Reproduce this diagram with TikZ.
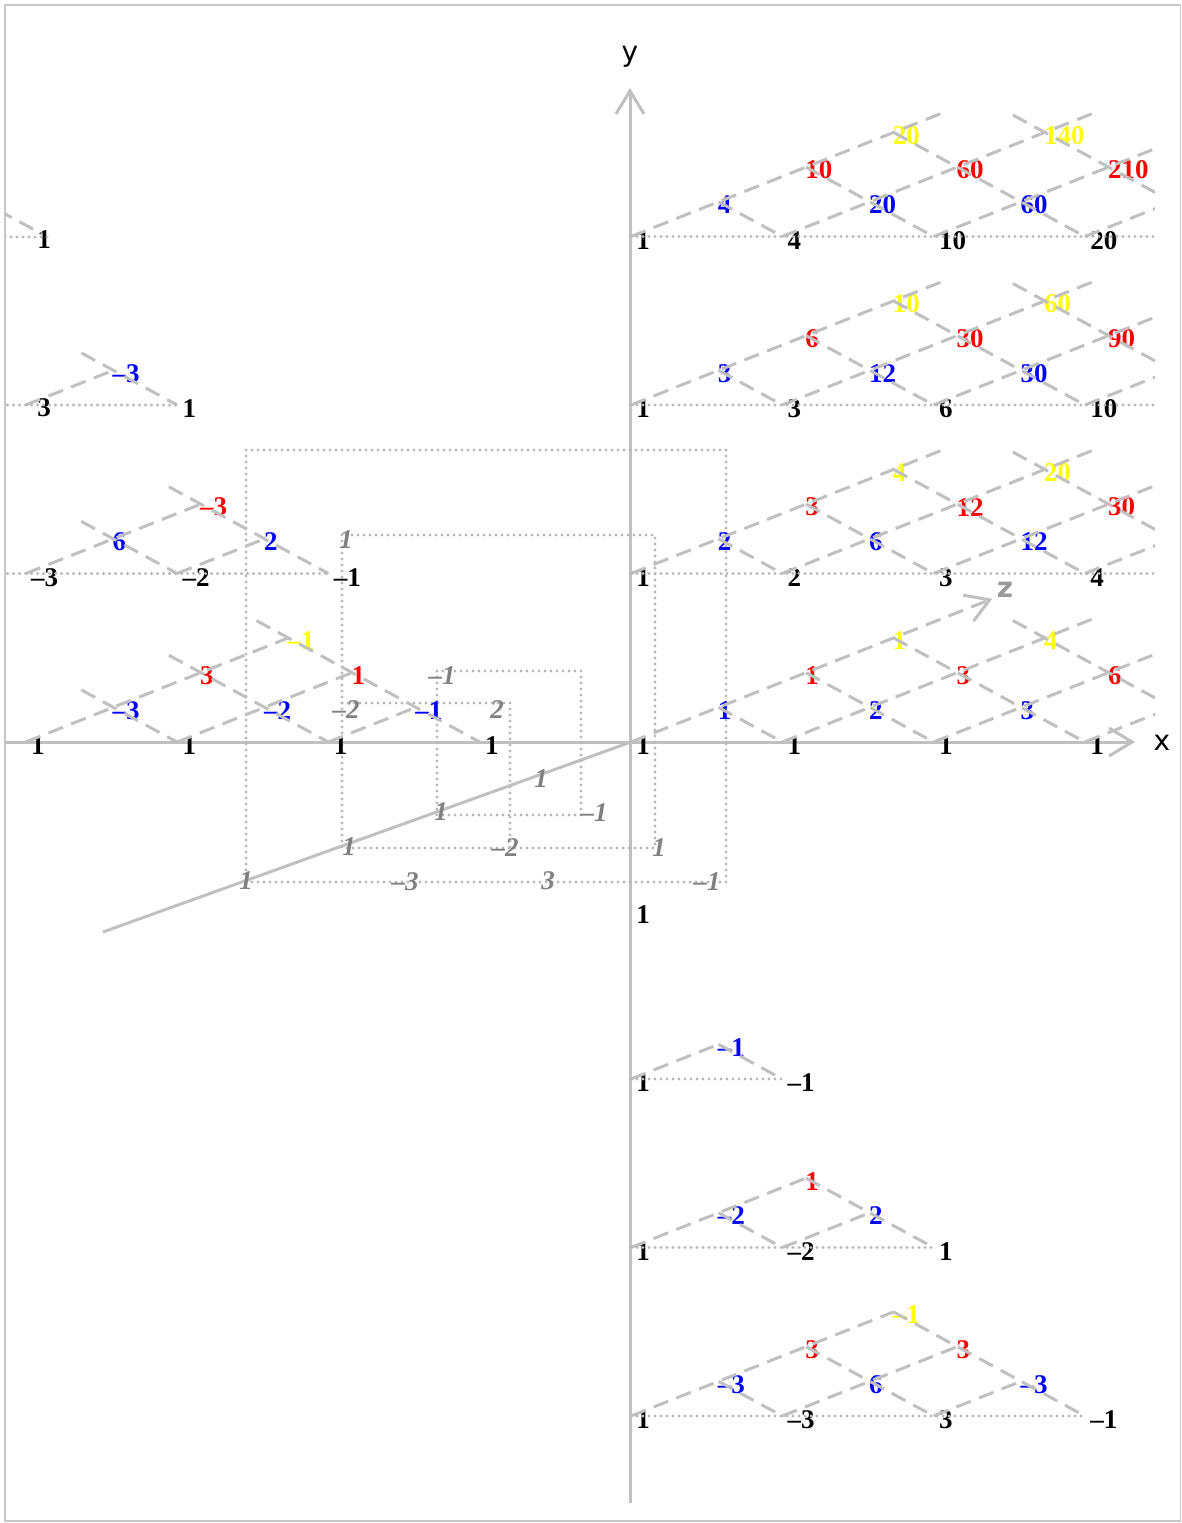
\documentclass[tikz,border=0pt]{standalone}
\usepackage{fontspec}
\setmainfont{Liberation Serif}
\newfontfamily\axfont{DejaVu Sans}
\usetikzlibrary{arrows.meta}
\definecolor{lg}{HTML}{C0C0C0}
\definecolor{dl}{HTML}{B8B8B8}
\definecolor{dg}{HTML}{808080}
\definecolor{zg}{HTML}{9A9A9A}
\definecolor{yel}{HTML}{FFFF00}
\definecolor{fr}{HTML}{C8C8C8}
\newcommand\lrow[4]{%
  \foreach \xx/\v in {#4} \node[#1] (#1y#2z#3x\xx) at (\xx,#2,#3) {\v};}
\begin{document}
\begin{tikzpicture}[x=0.5pt,y=-0.5pt,
  axis/.style={draw=lg, line width=1.5pt},
  dline/.style={draw=lg, line width=1.5pt, dash pattern=on 7.8pt off 4.4pt},
  dotline/.style={draw=dl, line width=1.7pt, line cap=round, dash pattern=on 0pt off 3pt},
  tip/.style={-{Straight Barb[length=11.5pt,width=14pt]}},
  lab/.style={font=\fontsize{13.5}{14}\selectfont\bfseries, inner sep=0pt, anchor=west},
  nk/.style={lab, text=black, xshift=2.5pt, yshift=-2pt},
  nb/.style={lab, text=blue, xshift=-0.5pt, yshift=-1.5pt},
  nr/.style={lab, text=red, xshift=-0.5pt, yshift=-1.5pt},
  ny/.style={lab, text=yel, xshift=-0.5pt, yshift=-1.5pt},
  gl/.style={font=\fontsize{13.5}{14}\selectfont\bfseries\itshape, text=dg, inner sep=0pt},
  axlab/.style={font=\axfont\fontsize{14}{15}\selectfont, inner sep=0pt}
]
\useasboundingbox (0,0) rectangle (1182,1523);
\draw[fr, line width=0.9pt] (5,5) rectangle (1180.5,1521);

% axes
\draw[axis,tip] (5,742) -- (1135,742);
\draw[axis,tip] (630,1503) -- (630,88);
\draw[axis] (103,932) -- (631,742);
\node[axlab] (xl) at (1162,743) {x};
\node[axlab] (yl) at (630,57) {y};
\node[axlab, text=zg, font=\axfont\bfseries\fontsize{14}{15}\selectfont] (zl) at (1005,590) {z};

% dotted frames in the negative z planes
\draw[dotline] (246,450) rectangle (726,882);
\draw[dotline] (342,535) rectangle (655,848);
\draw[dotline] (437,671) rectangle (581,815);
\draw[dotline] (342,703) -- (510,703) -- (510,848);

\node[gl] (g1) at (541,779) {1};
\node[gl] (g2) at (441,812) {1};
\node[gl] (g3) at (594,813) {–1};
\node[gl] (g4) at (349,847) {1};
\node[gl] (g5) at (505,848) {–2};
\node[gl] (g6) at (659,848) {1};
\node[gl] (g7) at (246,881) {1};
\node[gl] (g8) at (405,882) {–3};
\node[gl] (g9) at (548,881) {3};
\node[gl] (g10) at (707,882) {–1};
\node[gl] (g11) at (346,540) {1};
\node[gl] (g12) at (442,676) {–1};
\node[gl] (g13) at (346,710) {–2};
\node[gl] (g14) at (497,710) {2};

% lattice
\begin{scope}
\clip (5,5) rectangle (1155,1521);
\node[lab, anchor=center] (sp3) at (44,240) {1};
\node[lab, anchor=center] (sp2) at (44,408) {3};
\draw[dline] (-2,210) -- (42,234);
\draw[dotline] (5,237) -- (52,237);
\begin{scope}[shift={(631,742)}, x={(75.65pt,0pt)}, y={(0pt,84.25pt)}, z={(43.75pt,17.35pt)}]
% labels
\lrow{nk}{3}{0}{0/1,1/4,2/10,3/20}
\lrow{nb}{3}{1}{0/4,1/20,2/60}
\lrow{nr}{3}{2}{0/10,1/60,2/210}
\lrow{ny}{3}{3}{0/20,1/140}
\lrow{nk}{2}{0}{0/1,1/3,2/6,3/10,-3/1}
\lrow{nb}{2}{1}{0/3,1/12,2/30,-4/–3}
\lrow{nr}{2}{2}{0/6,1/30,2/90}
\lrow{ny}{2}{3}{0/10,1/60}
\lrow{nk}{1}{0}{0/1,1/2,2/3,3/4,-4/–3,-3/–2,-2/–1}
\lrow{nb}{1}{1}{0/2,1/6,2/12,-4/6,-3/2}
\lrow{nr}{1}{2}{0/3,1/12,2/30,-4/–3}
\lrow{ny}{1}{3}{0/4,1/20}
\lrow{nk}{0}{0}{0/1,1/1,2/1,3/1,-4/1,-3/1,-2/1,-1/1}
\lrow{nb}{0}{1}{0/1,1/2,2/3,-4/–3,-3/–2,-2/–1}
\lrow{nr}{0}{2}{0/1,1/3,2/6,-4/3,-3/1}
\lrow{ny}{0}{3}{0/1,1/4,-4/–1}
\lrow{nk}{-1}{0}{0/1}
\lrow{nk}{-2}{0}{0/1,1/–1}
\lrow{nb}{-2}{1}{0/–1}
\lrow{nk}{-3}{0}{0/1,1/–2,2/1}
\lrow{nb}{-3}{1}{0/–2,1/2}
\lrow{nr}{-3}{2}{0/1}
\lrow{nk}{-4}{0}{0/1,1/–3,2/3,3/–1}
\lrow{nb}{-4}{1}{0/–3,1/6,2/–3}
\lrow{nr}{-4}{2}{0/3,1/3}
\lrow{ny}{-4}{3}{0/–1}
% right layers
\foreach \yy in {0,1,2,3}{
  \foreach \xx in {1,2,3} \draw[dline] (\xx,\yy,0) -- (\xx,\yy,3.6);
  \foreach \kk in {1,2,3} \draw[dline] (0,\yy,\kk) -- (\kk,\yy,0);
  \draw[dline] (0.5,\yy,3.5) -- (4,\yy,0);
}
\foreach \yy in {1,2,3}{
  \draw[dline] (0,\yy,0) -- (0,\yy,3.6);
  \draw[dotline] (0,\yy,0) -- (3.5,\yy,0);
}
\draw[dline,tip] (0,0,0) -- (0,0,4.13);
% left layers
\draw[dline] (-4,0,0) -- (-4,0,3);
\draw[dline] (-3,0,0) -- (-3,0,2);
\draw[dline] (-2,0,0) -- (-2,0,1);
\draw[dline] (-4.5,0,1.5) -- (-3,0,0);
\draw[dline] (-4.5,0,2.5) -- (-2,0,0);
\draw[dline] (-4.5,0,3.5) -- (-1,0,0);
\draw[dline] (-4,1,0) -- (-4,1,2);
\draw[dline] (-3,1,0) -- (-3,1,1);
\draw[dline] (-4.5,1,1.5) -- (-3,1,0);
\draw[dline] (-4.5,1,2.5) -- (-2,1,0);
\draw[dotline] (-4.2,1,0) -- (-2,1,0);
\draw[dline] (-4,2,0) -- (-4,2,1);
\draw[dline] (-4.5,2,1.5) -- (-3,2,0);
\draw[dotline] (-4.2,2,0) -- (-3,2,0);
% negative layers
\draw[dline] (0,-2,0) -- (0,-2,1);
\draw[dline] (0,-2,1) -- (1,-2,0);
\draw[dotline] (0,-2,0) -- (1,-2,0);
\draw[dline] (0,-3,0) -- (0,-3,2);
\draw[dline] (1,-3,0) -- (1,-3,1);
\draw[dline] (0,-3,1) -- (1,-3,0);
\draw[dline] (0,-3,2) -- (2,-3,0);
\draw[dotline] (0,-3,0) -- (2,-3,0);
\draw[dline] (0,-4,0) -- (0,-4,3);
\draw[dline] (1,-4,0) -- (1,-4,2);
\draw[dline] (2,-4,0) -- (2,-4,1);
\draw[dline] (0,-4,1) -- (1,-4,0);
\draw[dline] (0,-4,2) -- (2,-4,0);
\draw[dline] (0,-4,3) -- (3,-4,0);
\draw[dotline] (0,-4,0) -- (3,-4,0);
\end{scope}
\end{scope}
\end{tikzpicture}
\end{document}
